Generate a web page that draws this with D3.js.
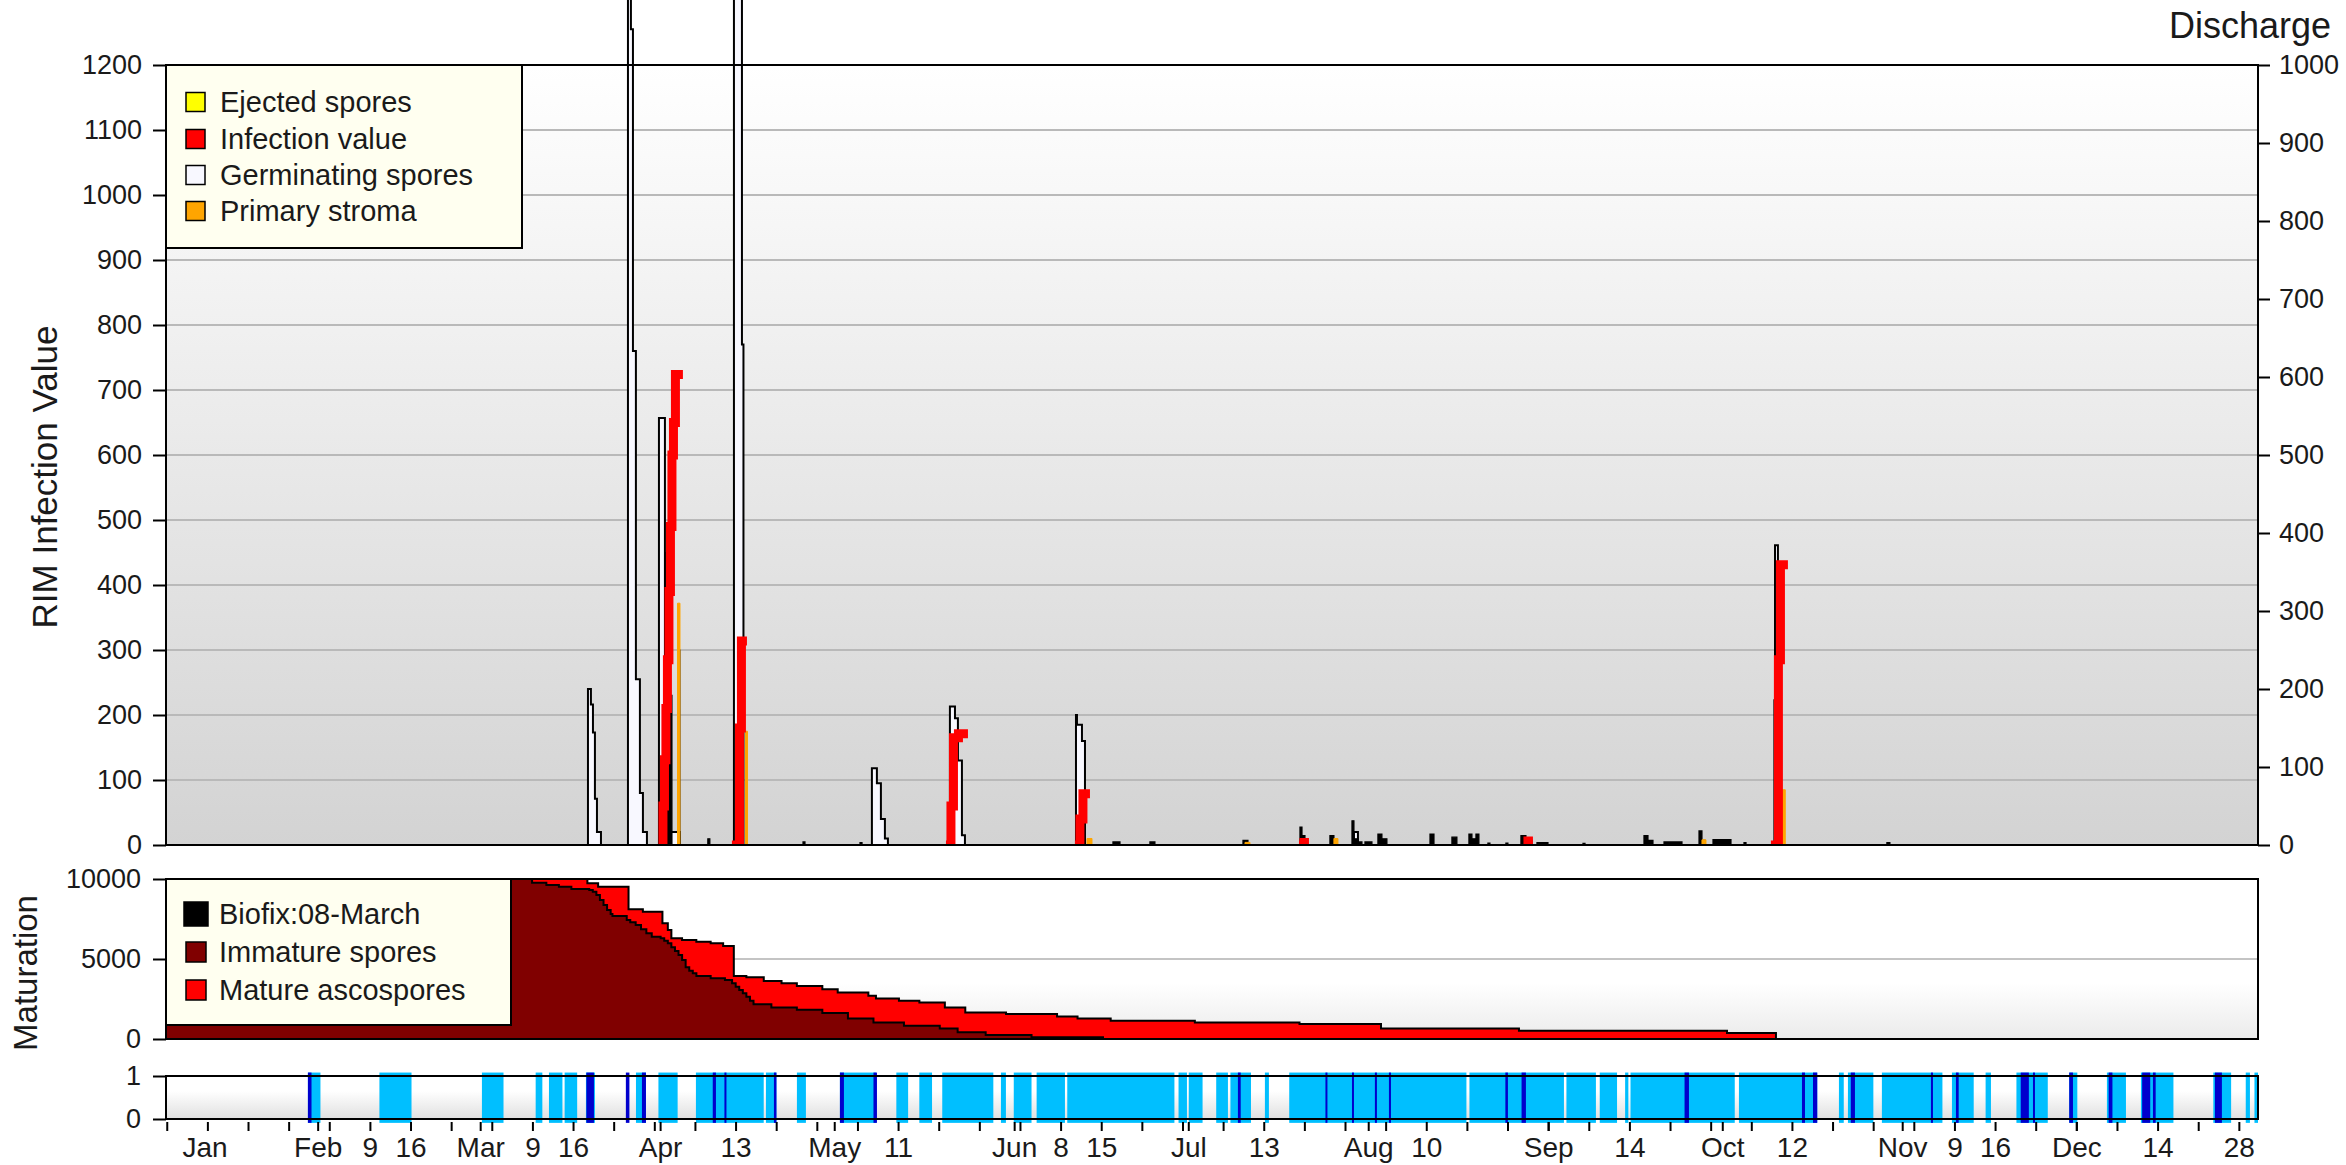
<!DOCTYPE html>
<html><head><meta charset="utf-8">
<script src="https://cdn.jsdelivr.net/npm/d3@7"></script>
<style>html,body{margin:0;padding:0;background:#fff;} svg{display:block;font-family:'Liberation Sans',Arial,sans-serif;}</style>
</head><body><svg id="chart" width="2346" height="1165"></svg>
<script>
// ---------- DATA (x = days since 1 Jan 2015 00:00) ----------
const leftTicks = [0,100,200,300,400,500,600,700,800,900,1000,1100,1200];
const rightTicks = [0,100,200,300,400,500,600,700,800,900,1000];
const matTicks = [0,5000,10000];
const wetTicks = [0,1];
const xTickDays = [4,11,18,25,32,39,46,53,60,67,74,81,88,95,102,109,116,123,130,137,144,151,158,165,172,179,186,193,200,207,214,221,228,235,242,249,256,263,270,277,284,291,298,305,312,319,326,333,340,347,354,361,
  30,58,89,119,150,180,211,242,272,303,333];
const xLabelDays = [10.5,30,39,46,58,67,74,89,102,119,130,150,158,165,180,193,211,221,242,256,272,284,303,312,319,333,347,361];
const xLabels = ["Jan","Feb","9","16","Mar","9","16","Apr","13","May","11","Jun","8","15","Jul","13","Aug","10","Sep","14","Oct","12","Nov","9","16","Dec","14","28"];

const topLegend = ["Ejected spores","Infection value","Germinating spores","Primary stroma"];
const topLegendColors = ["#ffff00","#ff0000","#f8f8ff","#ffa500"];
const matLegend = ["Biofix:08-March","Immature spores","Mature ascospores"];
const matLegendColors = ["#000000","#800000","#ff0000"];

// RIM values (left axis)
const germinatingSpores = [
 [0,0],
 [76.3,0],[76.57,240],[77.08,216],[77.43,173],[77.77,71],[78.12,20],[78.81,0],
 [83.46,1500],[83.97,1255],[84.32,760],[84.83,255],[85.52,80],[86.04,20],[86.73,0],
 [88.80,657],[89.83,0],[90.86,20],[92.41,0],
 [101.72,1500],[103.10,770],[103.36,0],
 [125.49,118],[126.35,95],[127.04,40],[127.73,10],[128.25,0],
 [138.93,213],[139.80,195],[140.31,130],[141.00,15],[141.52,0],
 [160.65,200],[160.82,185],[161.68,160],[162.20,0],
 [208.54,20],[209.23,0],
 [281.08,461],[281.59,0],
 [365,0]
];
const primaryStroma = [
 [0,0],
 [92.00,372],[92.42,0],
 [103.70,175],[104.05,0],
 [162.55,10],[163.41,0],
 [189.77,4],[190.63,0],
 [205.09,10],[205.78,0],
 [268.50,8],[269.19,0],
 [282.28,85],[282.85,0],
 [365,0]
];
const ejectedSpores = [[0,0],[365,0]];
const infectionEvents = [
 [[88.80,0],[89.49,60],[89.75,131],[90.00,210],[90.26,285],[90.52,390],[90.78,490],[91.04,600],[91.30,650],[91.64,724],[92.93,724]],
 [[101.37,0],[102.67,180],[103.01,314],[103.96,314]],
 [[138.25,0],[139.11,60],[139.54,165],[140.40,171],[142.04,171]],
 [[160.47,0],[161.33,40],[161.85,79],[163.06,79]],
 [[199.07,0],[199.93,4],[200.79,4]],
 [[237.83,0],[238.52,6],[239.38,6]],
 [[280.38,0],[281.67,285],[282.02,431],[283.31,431]]
];
// Discharge (right axis)
const discharge = [
 [0,0],
 [89.83,375],[90.35,192],[91.04,0],[92.24,250],[92.41,0],
 [97.22,8],[97.57,0],[113.62,4],[113.96,0],[123.44,3],[123.79,0],
 [167.02,4],[168.23,0],[173.39,4],[174.25,0],[189.42,6],[190.28,0],
 [199.24,23],[199.59,12],[200.10,0],[204.40,12],[205.09,0],
 [208.20,31],[208.54,8],[209.23,4],[209.92,0],[210.44,4],[211.64,0],
 [212.67,14],[213.36,8],[214.22,0],[221.64,14],[222.33,0],[225.42,10],[226.28,0],
 [228.35,14],[228.87,8],[229.56,14],[230.07,0],[231.62,2.5],[231.97,0],[234.72,2.5],[235.07,0],
 [237.31,12],[238.17,6],[239.21,0],[240.07,3],[241.97,0],[248.00,2],[248.35,0],
 [258.51,12],[259.20,6],[260.06,0],[261.96,4],[265.06,0],[267.99,18],[268.50,6],[269.02,0],
 [270.40,7],[273.50,0],[275.74,3],[276.09,0],
 [280.91,186],[281.34,83],[281.60,0],
 [300.36,3],[300.88,0],
 [365,0]
];
// Maturation
const immatureSpores = [
 [0,10000],[66.94,9771],[69.40,9625],[71.56,9521],[73.71,9375],[76.79,9313],[77.40,9208],[78.02,9000],[78.63,8688],[79.25,8375],[79.86,8063],[80.48,7813],[80.79,7688],
 [83.25,7438],[83.86,7292],[84.79,7125],[85.71,6854],[86.63,6604],[87.56,6396],[89.09,6292],[89.71,6146],[90.33,5979],[90.94,5729],[91.56,5500],[92.17,5250],[92.79,4938],[93.40,4479],[94.02,4271],[94.63,4104],[95.25,3938],
 [97.71,3792],[100.17,3688],[101.40,3479],[102.02,3271],[102.63,3063],[103.25,2854],[103.86,2646],[104.48,2396],[105.09,2229],
 [105.10,2178],[108.17,1971],[112.56,1826],[116.95,1618],[121.36,1286],[125.76,1037],[131.01,830],[137.18,664],[140.26,415],[145.09,249],[152.99,104],[165.30,0],[365,0]
];
const immaturePlusMature = [
 [0,10000],[76.47,9729],[78.32,9521],[83.56,8104],[86.03,7958],[89.40,7229],[90.33,6813],[90.94,6292],[92.78,6188],[95.24,6083],[97.71,5979],[99.86,5813],
 [101.70,3938],[103.86,3854],[106.86,3631],[109.92,3485],[112.56,3320],[116.95,3112],[119.60,2905],[124.88,2697],[126.19,2531],[130.15,2386],[133.67,2282],
 [138.06,1971],[141.58,1660],[148.60,1556],[157.39,1411],[160.92,1286],[166.63,1141],[181.13,1037],[199.16,934],[213.20,664],[236.97,519],[272.81,373],[281.25,0],[365,0]
];
// Wetness periods (light blue) and rain (dark blue)
const wetPeriods = [[28.32,30.48],[40.64,46.17],[58.30,62.02],[67.56,68.71],[69.85,72.17],[72.55,74.71],[76.22,77.77],[84.84,86.56],[88.71,92.02],
 [95.17,106.85],[107.23,109.04],[112.57,114.12],[119.98,126.18],[129.70,131.73],[133.66,135.85],[137.61,146.41],[147.72,148.58],[149.93,152.99],[153.87,158.75],
 [159.15,177.61],[178.32,179.77],[180.08,182.46],[184.81,186.83],[187.26,190.80],[193.20,193.89],[197.39,227.92],[228.44,244.72],[245.15,250.23],[250.89,253.87],
 [255.26,255.82],[256.19,274.15],[274.87,288.36],[292.10,292.93],[293.65,298.03],[299.50,309.93],[311.57,315.32],[317.37,318.29],[322.68,328.08],[331.78,333.17],
 [338.27,341.55],[344.13,349.73],[356.60,359.67],[362.19,362.91],[363.69,364.81]];
const rainPeriods = [[28.32,28.94],[76.30,77.60],[83.10,83.71],[85.87,86.56],[98.07,98.62],[100.08,100.43],[108.61,109.04],[119.98,120.67],[125.76,126.36],
 [188.55,189.03],[203.63,203.97],[208.20,208.54],[212.15,212.50],[214.57,214.92],[234.63,235.07],[237.42,238.17],[265.50,266.26],[285.73,286.25],[287.63,288.36],
 [294.14,294.86],[307.95,308.30],[312.26,312.73],[323.42,324.82],[325.53,325.87],[331.78,332.42],[338.57,339.22],[344.34,345.73],[346.20,346.67],[356.88,358.08]];

// ---------- LAYOUT ----------
const L = 166, R = 2258;
const TOP = {t:65, b:845}, MAT = {t:879, b:1039}, WET = {t:1076, b:1119};
const TXT = '#1a1a1a';
const FONT = "'Liberation Sans',Arial,sans-serif";

const svg = d3.select('#chart');
const defs = svg.append('defs');
function vgrad(id, stops){
  const g = defs.append('linearGradient').attr('id',id).attr('x1',0).attr('y1',0).attr('x2',0).attr('y2',1);
  stops.forEach(s=>g.append('stop').attr('offset',s[0]).attr('stop-color',s[1]));
}
vgrad('gTop',[[0,'#ffffff'],[1,'#d3d3d3']]);
vgrad('gMat',[[0,'#ffffff'],[0.65,'#ffffff'],[1,'#ebebeb']]);
vgrad('gWet',[[0,'#ffffff'],[0.35,'#ffffff'],[1,'#e0e0e0']]);
function clip(id,x0,y0,x1,y1){ defs.append('clipPath').attr('id',id).append('rect').attr('x',x0).attr('y',y0).attr('width',x1-x0).attr('height',y1-y0); }
clip('cTop',L,0,R,TOP.b);
clip('cMat',L,MAT.t,R,MAT.b);
clip('cWet',L,1068,R,1128);

const x = d3.scaleLinear().domain([3.87,364.3]).range([L,R]);
const yL = d3.scaleLinear().domain([0,1200]).range([TOP.b,TOP.t]);
const yR = d3.scaleLinear().domain([0,1000]).range([TOP.b,TOP.t]);
const yM = d3.scaleLinear().domain([0,10000]).range([MAT.b,MAT.t]);
const yW = d3.scaleLinear().domain([0,1]).range([WET.b,WET.t]);
const fmt = d3.format('d');

// ---------- TOP PLOT ----------
svg.append('rect').attr('x',L).attr('y',TOP.t).attr('width',R-L).attr('height',TOP.b-TOP.t).attr('fill','url(#gTop)');
svg.append('g').selectAll('line').data(leftTicks.filter(v=>v>0&&v<1200)).join('line')
  .attr('x1',L).attr('x2',R).attr('y1',d=>yL(d)).attr('y2',d=>yL(d)).attr('stroke','#b9b9b9').attr('stroke-width',2);

const gTop = svg.append('g').attr('clip-path','url(#cTop)');
const areaL = d3.area().curve(d3.curveStepAfter).x(d=>x(d[0])).y0(yL(0)).y1(d=>yL(d[1]));
const areaR = d3.area().curve(d3.curveStepAfter).x(d=>x(d[0])).y0(yR(0)).y1(d=>yR(d[1]));
gTop.append('path').datum(germinatingSpores).attr('d',areaL).attr('fill','#f8f8ff').attr('stroke','#000').attr('stroke-width',2);
gTop.append('path').datum(discharge).attr('d',areaR).attr('fill','#000').attr('stroke','#000').attr('stroke-width',1.2);
gTop.append('path').datum(primaryStroma).attr('d',areaL).attr('fill','#ffa500').attr('stroke','#ffa500').attr('stroke-width',1);
gTop.append('path').datum(ejectedSpores).attr('d',areaL).attr('fill','#ffff00');
const lineL = d3.line().curve(d3.curveStepAfter).x(d=>x(d[0])).y(d=>yL(d[1]));
gTop.selectAll('path.inf').data(infectionEvents).join('path').attr('class','inf').attr('d',lineL)
  .attr('fill','none').attr('stroke','#ff0000').attr('stroke-width',9).attr('stroke-linejoin','miter');

svg.append('rect').attr('x',L).attr('y',TOP.t).attr('width',R-L).attr('height',TOP.b-TOP.t).attr('fill','none').attr('stroke','#000').attr('stroke-width',2);

function styleAxis(g, fs){
  g.select('.domain').remove();
  g.selectAll('.tick line').attr('stroke','#000').attr('stroke-width',2);
  g.selectAll('.tick text').attr('font-size',fs).attr('fill',TXT).attr('font-family',FONT);
}
styleAxis(svg.append('g').attr('transform',`translate(${L},0)`).call(d3.axisLeft(yL).tickValues(leftTicks).tickFormat(fmt).tickSize(13).tickPadding(11)),27);
styleAxis(svg.append('g').attr('transform',`translate(${R},0)`).call(d3.axisRight(yR).tickValues(rightTicks).tickFormat(fmt).tickSize(12).tickPadding(9)),27);

svg.append('text').attr('transform','translate(57,477) rotate(-90)').attr('text-anchor','middle')
  .attr('font-size',35).attr('fill',TXT).text('RIM Infection Value');
svg.append('text').attr('x',2331).attr('y',38).attr('text-anchor','end').attr('font-size',36).attr('fill',TXT).text('Discharge');

// top legend
const lg = svg.append('g');
lg.append('rect').attr('x',L).attr('y',TOP.t).attr('width',356).attr('height',183).attr('fill','#fffff0').attr('stroke','#000').attr('stroke-width',2);
const topRows = [102,139,175,211];
topLegend.forEach((t,i)=>{
  lg.append('rect').attr('x',186).attr('y',topRows[i]-9.5).attr('width',19).attr('height',19).attr('fill',topLegendColors[i]).attr('stroke','#000').attr('stroke-width',1.5);
  lg.append('text').attr('x',220).attr('y',topRows[i]).attr('dy','0.36em').attr('font-size',29).attr('fill',TXT).text(t);
});

// ---------- MATURATION ----------
svg.append('rect').attr('x',L).attr('y',MAT.t).attr('width',R-L).attr('height',MAT.b-MAT.t).attr('fill','url(#gMat)');
svg.append('line').attr('x1',L).attr('x2',R).attr('y1',yM(5000)).attr('y2',yM(5000)).attr('stroke','#c4c4c4').attr('stroke-width',2);
const gMat = svg.append('g').attr('clip-path','url(#cMat)');
const areaM = d3.area().curve(d3.curveStepAfter).x(d=>x(d[0])).y0(yM(0)).y1(d=>yM(d[1]));
const lineM = d3.line().curve(d3.curveStepAfter).x(d=>x(d[0])).y(d=>yM(d[1]));
gMat.append('path').datum(immaturePlusMature).attr('d',areaM).attr('fill','#ff0000');
gMat.append('path').datum(immaturePlusMature).attr('d',lineM).attr('fill','none').attr('stroke','#000').attr('stroke-width',2);
gMat.append('path').datum(immatureSpores).attr('d',areaM).attr('fill','#800000');
gMat.append('path').datum(immatureSpores).attr('d',lineM).attr('fill','none').attr('stroke','#000').attr('stroke-width',2);
svg.append('rect').attr('x',L).attr('y',MAT.t).attr('width',R-L).attr('height',MAT.b-MAT.t).attr('fill','none').attr('stroke','#000').attr('stroke-width',2);
styleAxis(svg.append('g').attr('transform',`translate(${L},0)`).call(d3.axisLeft(yM).tickValues(matTicks).tickFormat(fmt).tickSize(13).tickPadding(12)),27);
svg.append('text').attr('transform',`translate(37,${(MAT.t+MAT.b)/2+14}) rotate(-90)`).attr('text-anchor','middle')
  .attr('font-size',33).attr('fill',TXT).text('Maturation');

const ml = svg.append('g');
ml.append('rect').attr('x',L).attr('y',MAT.t).attr('width',345).attr('height',146).attr('fill','#fffff0').attr('stroke','#000').attr('stroke-width',2);
const matRows = [914,952,990];
matLegend.forEach((t,i)=>{
  const s = i===0 ? 24 : 20;
  ml.append('rect').attr('x',196-s/2).attr('y',matRows[i]-s/2).attr('width',s).attr('height',s).attr('fill',matLegendColors[i]).attr('stroke','#000').attr('stroke-width',1.5);
  ml.append('text').attr('x',219).attr('y',matRows[i]).attr('dy','0.36em').attr('font-size',29).attr('fill',TXT).text(t);
});

// ---------- WETNESS ----------
svg.append('rect').attr('x',L).attr('y',WET.t).attr('width',R-L).attr('height',WET.b-WET.t).attr('fill','url(#gWet)');
const gWet = svg.append('g').attr('clip-path','url(#cWet)');
gWet.selectAll('rect.w').data(wetPeriods).join('rect').attr('class','w')
  .attr('x',d=>x(d[0])).attr('width',d=>Math.max(1.5,x(d[1])-x(d[0])))
  .attr('y',yW(1.08)).attr('height',yW(-0.09)-yW(1.08)).attr('fill','#00bfff');
gWet.selectAll('rect.r').data(rainPeriods).join('rect').attr('class','r')
  .attr('x',d=>x(d[0])).attr('width',d=>Math.max(2,x(d[1])-x(d[0])))
  .attr('y',yW(1.08)).attr('height',yW(-0.09)-yW(1.08)).attr('fill','#0000cd');
svg.append('rect').attr('x',L).attr('y',WET.t).attr('width',R-L).attr('height',WET.b-WET.t).attr('fill','none').attr('stroke','#000').attr('stroke-width',2);
styleAxis(svg.append('g').attr('transform',`translate(${L},0)`).call(d3.axisLeft(yW).tickValues(wetTicks).tickFormat(fmt).tickSize(13).tickPadding(12)),27);

// ---------- X AXIS ----------
const xt = svg.append('g').attr('transform',`translate(0,${WET.b+3})`)
  .call(d3.axisBottom(x).tickValues(xTickDays.filter(d=>d>=3.87&&d<=364.3)).tickSize(9).tickFormat(''));
xt.select('.domain').remove();
xt.selectAll('.tick line').attr('stroke','#000').attr('stroke-width',2);
const xl = svg.append('g').attr('transform',`translate(0,${WET.b+1})`)
  .call(d3.axisBottom(x).tickValues(xLabelDays).tickSize(0).tickPadding(17).tickFormat((d,i)=>xLabels[i]));
xl.select('.domain').remove();
xl.selectAll('.tick text').attr('font-size',28).attr('fill',TXT).attr('font-family',FONT);
</script></body></html>
